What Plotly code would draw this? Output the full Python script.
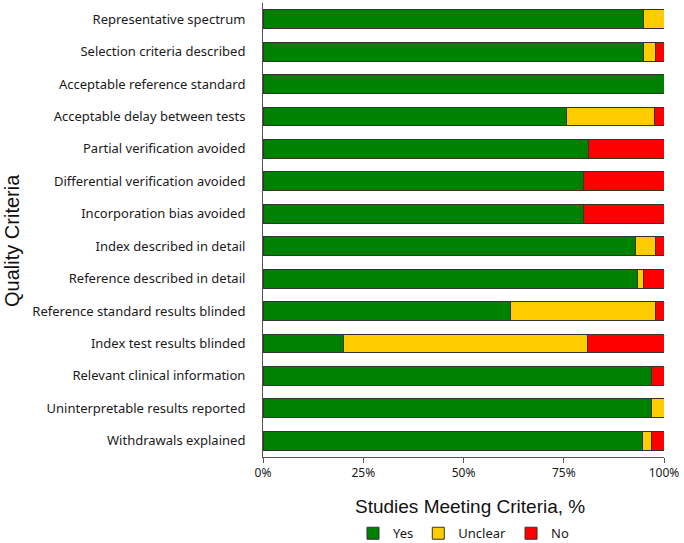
import plotly.graph_objects as go

categories = [
    "Representative spectrum",
    "Selection criteria described",
    "Acceptable reference standard",
    "Acceptable delay between tests",
    "Partial verification avoided",
    "Differential verification avoided",
    "Incorporation bias avoided",
    "Index described in detail",
    "Reference described in detail",
    "Reference standard results blinded",
    "Index test results blinded",
    "Relevant clinical information",
    "Uninterpretable results reported",
    "Withdrawals explained",
]
yes_pct = [95, 95, 100, 75.6, 81.1, 80, 80, 92.8, 93.3, 61.8, 20, 96.9, 97, 94.6]
unclear_pct = [5, 3, 0, 22, 0, 0, 0, 5, 1.7, 36, 61, 0, 3, 2.2]
no_pct = [0, 2, 0, 2.4, 18.9, 20, 20, 2.2, 5, 2.2, 19, 3.1, 0, 3.2]
x_ticks = [0, 25, 50, 75, 100]
x_tick_labels = ["0%", "25%", "50%", "75%", "100%"]

series = [
    ("Yes", yes_pct, "#008000"),
    ("Unclear", unclear_pct, "#FFCC00"),
    ("No", no_pct, "#FF0000"),
]

fig = go.Figure()
for name, vals, color in series:
    fig.add_trace(go.Bar(
        y=categories, x=vals, name=name, orientation="h",
        marker=dict(color=color, line=dict(color="#333333", width=1)),
        width=0.58,
    ))

fig.update_layout(
    barmode="stack",
    width=684, height=543,
    margin=dict(l=263, r=20, t=3, b=86, autoexpand=False),
    plot_bgcolor="white", paper_bgcolor="white",
    font=dict(family="Noto Sans", size=12, color="#1a1a1a"),
    legend=dict(orientation="h", x=0.5, xanchor="center",
                y=-0.135, yanchor="top",
                font=dict(size=13), itemwidth=30, traceorder="normal"),
    xaxis=dict(range=[0, 100], tickvals=x_ticks, ticktext=x_tick_labels,
               showline=True, linecolor="#555555", linewidth=1,
               ticks="outside", ticklen=5, tickcolor="#555555",
               showgrid=False, zeroline=False, automargin=False,
               tickfont=dict(size=12)),
    yaxis=dict(categoryorder="array", categoryarray=categories,
               autorange="reversed",
               showline=True, linecolor="#555555", linewidth=1,
               ticks="", showgrid=False, ticklabelstandoff=14,
               automargin=False,
               tickfont=dict(size=13)),
    annotations=[
        dict(text="Studies Meeting Criteria, %", xref="paper", yref="paper",
             x=0.515, y=-0.11, xanchor="center", yanchor="middle",
             showarrow=False,
             font=dict(family="Liberation Sans", size=19, color="#111111")),
        dict(text="Quality Criteria", xref="paper", yref="paper",
             x=-0.626, y=0.478, xanchor="center", yanchor="middle",
             textangle=-90, showarrow=False,
             font=dict(family="Liberation Sans", size=20, color="#111111")),
    ],
)

fig.write_html("out.html",
               config={"displayModeBar": False},
               post_script="document.body.style.margin='0';document.body.style.overflow='hidden';")
